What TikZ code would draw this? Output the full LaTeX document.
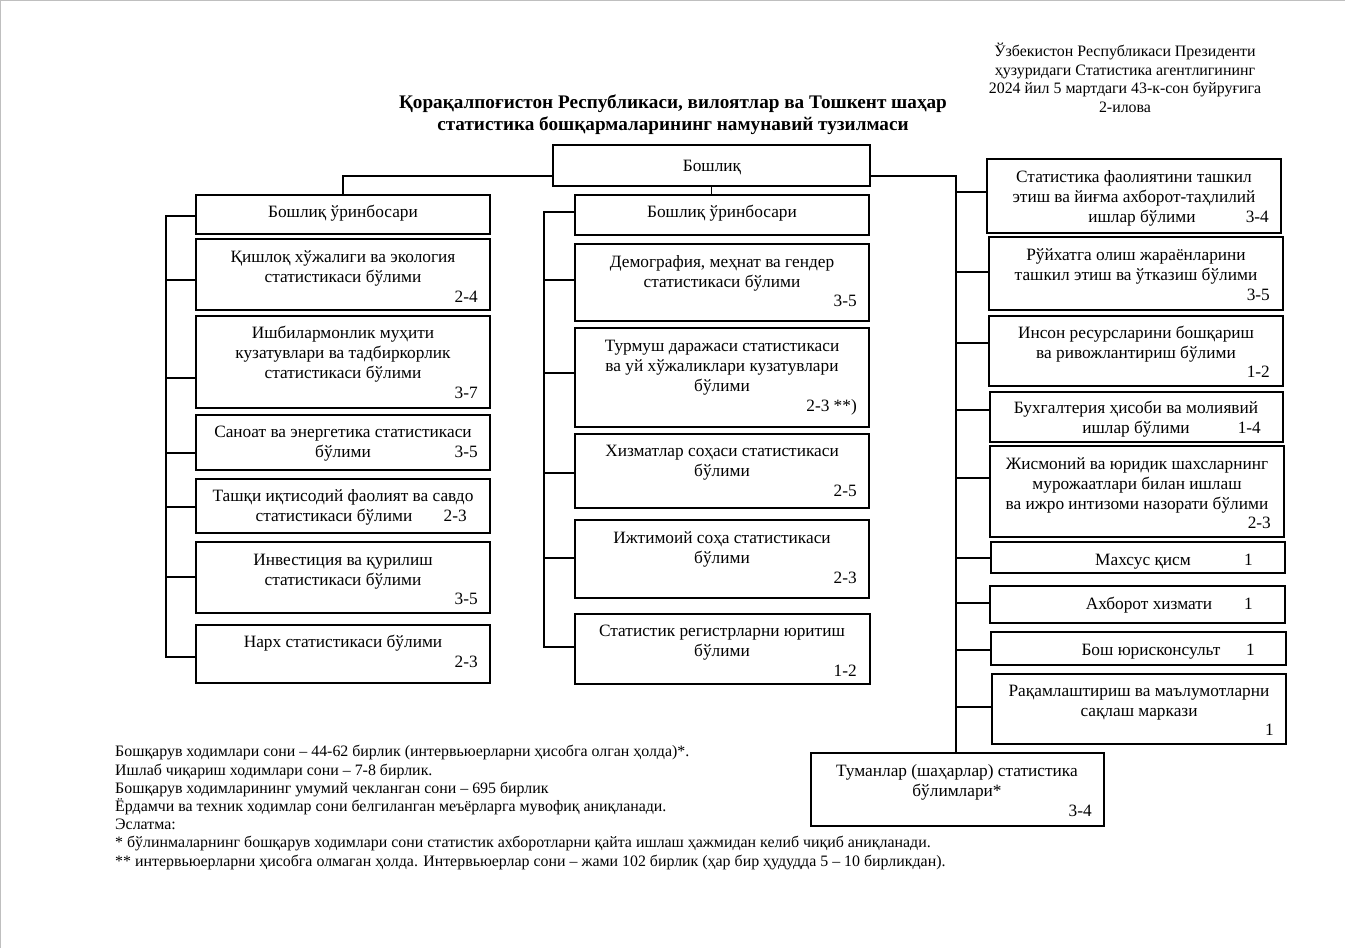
\documentclass[tikz,border=0pt]{standalone}
\usepackage{fontspec}
\setmainfont{Liberation Serif}
\tikzset{
 box/.style={draw=black, line width=1.2pt, inner sep=0pt, outer sep=0pt, anchor=north west},
 conn/.style={draw=black, line width=1.2pt},
 txt/.style={font=\fontsize{17.3}{20}\selectfont, align=center, anchor=base, inner sep=0pt},
 num/.style={font=\fontsize{17.3}{20}\selectfont, anchor=base east, inner sep=0pt},
 hdr/.style={font=\fontsize{15.9}{18.4}\selectfont, align=center, anchor=base, inner sep=0pt},
 ttl/.style={font=\bfseries\fontsize{19.2}{22}\selectfont, align=center, anchor=base, inner sep=0pt},
 foot/.style={font=\fontsize{15.9}{18.2}\selectfont, align=left, anchor=base west, inner sep=0pt},
}
\newcommand\bx[5]{\node[box, minimum width={#4-#2}, minimum height={#5-#3}] (#1) at (#2,#3) {};}
\begin{document}
\begin{tikzpicture}[x=1pt,y=-1pt]
\useasboundingbox (0,0) rectangle (1345,948);
\draw[gray!50, line width=0.8pt] (0.4,948) -- (0.4,0.4) -- (1345,0.4);

% header (anchor = baseline of last line)
\node[hdr] (hdr) at (1125,112) {Ўзбекистон Республикаси Президенти\\ҳузуридаги Статистика агентлигининг\\2024 йил 5 мартдаги 43-к-сон буйруғига\\2-илова};
\node[ttl] (ttl) at (673,130) {Қорақалпоғистон Республикаси, вилоятлар ва Тошкент шаҳар\\статистика бошқармаларининг намунавий тузилмаси};

% head
\bx{boss}{553}{145}{870}{186}
\node[txt] (bosst) at (712,171) {Бошлиқ};

% left column
\bx{lub}{196}{195}{490}{234}
\node[txt] (lubt) at (343,217) {Бошлиқ ўринбосари};
\bx{l1}{196}{239}{490}{310}
\node[txt] (l1t) at (343,282) {Қишлоқ хўжалиги ва экология\\статистикаси бўлими};
\node[num] (l1n) at (478,302) {2-4};
\bx{l2}{196}{316}{490}{408}
\node[txt] (l2t) at (343,378) {Ишбилармонлик муҳити\\кузатувлари ва тадбиркорлик\\статистикаси бўлими};
\node[num] (l2n) at (478,398) {3-7};
\bx{l3}{196}{415}{490}{470}
\node[txt] (l3t) at (343,457) {Саноат ва энергетика статистикаси\\бўлими};
\node[num] (l3n) at (478,457) {3-5};
\bx{l4}{196}{479}{490}{533}
\node[txt] (l4t) at (343,521) {Ташқи иқтисодий фаолият ва савдо\\статистикаси бўлими\hspace*{18pt}};
\node[num] (l4n) at (467,521) {2-3};
\bx{l5}{196}{542}{490}{613}
\node[txt] (l5t) at (343,585) {Инвестиция ва қурилиш\\статистикаси бўлими};
\node[num] (l5n) at (478,604) {3-5};
\bx{l6}{196}{625}{490}{683}
\node[txt] (l6t) at (343,647) {Нарх статистикаси бўлими};
\node[num] (l6n) at (478,667) {2-3};

% middle column
\bx{mub}{575}{195}{869}{235}
\node[txt] (mubt) at (722,217) {Бошлиқ ўринбосари};
\bx{m1}{575}{244}{869}{321}
\node[txt] (m1t) at (722,287) {Демография, меҳнат ва гендер\\статистикаси бўлими};
\node[num] (m1n) at (857,306) {3-5};
\bx{m2}{575}{328}{869}{427}
\node[txt] (m2t) at (722,391) {Турмуш даражаси статистикаси\\ва уй хўжаликлари кузатувлари\\бўлими};
\node[num] (m2n) at (857,411) {2-3 **)};
\bx{m3}{575}{434}{869}{508}
\node[txt] (m3t) at (722,476) {Хизматлар соҳаси статистикаси\\бўлими};
\node[num] (m3n) at (857,496) {2-5};
\bx{m4}{575}{520}{869}{598}
\node[txt] (m4t) at (722,563) {Ижтимоий соҳа статистикаси\\бўлими};
\node[num] (m4n) at (857,583) {2-3};
\bx{m5}{575}{614}{870}{684}
\node[txt] (m5t) at (722,656) {Статистик регистрларни юритиш\\бўлими};
\node[num] (m5n) at (857,676) {1-2};

% right column
\bx{r1}{987}{159}{1281}{233}
\node[txt] (r1t) at (1134,222) {Статистика фаолиятини ташкил\\этиш ва йиғма ахборот-таҳлилий\\\hspace*{16pt}ишлар бўлими};
\node[num] (r1n) at (1269,222) {3-4};
\bx{r2}{989}{237}{1283}{310}
\node[txt] (r2t) at (1136,280) {Рўйхатга олиш жараёнларини\\ташкил этиш ва ўтказиш бўлими};
\node[num] (r2n) at (1270,300) {3-5};
\bx{r3}{989}{316}{1283}{386}
\node[txt] (r3t) at (1136,358) {Инсон ресурсларини бошқариш\\ва ривожлантириш бўлими};
\node[num] (r3n) at (1270,377) {1-2};
\bx{r4}{990}{392}{1283}{442}
\node[txt] (r4t) at (1136,433) {Бухгалтерия ҳисоби ва молиявий\\ишлар бўлими};
\node[num] (r4n) at (1261,433) {1-4};
\bx{r5}{990}{446}{1284}{537}
\node[txt] (r5t) at (1137,509) {Жисмоний ва юридик шахсларнинг\\мурожаатлари билан ишлаш\\ва ижро интизоми назорати бўлими};
\node[num] (r5n) at (1271,528) {2-3};
\bx{r6}{991}{542}{1285}{573}
\node[txt] (r6t) at (1143,565) {Махсус қисм};
\node[num] (r6n) at (1253,565) {1};
\bx{r7}{990}{586}{1285}{623}
\node[txt] (r7t) at (1149,609) {Ахборот хизмати};
\node[num] (r7n) at (1253,609) {1};
\bx{r8}{991}{632}{1286}{665}
\node[txt] (r8t) at (1151,655) {Бош юрисконсульт};
\node[num] (r8n) at (1255,655) {1};
\bx{r9}{992}{674}{1286}{744}
\node[txt] (r9t) at (1139,716) {Рақамлаштириш ва маълумотларни\\сақлаш маркази};
\node[num] (r9n) at (1274,735) {1};
\bx{tum}{811}{753}{1104}{826}
\node[txt] (tumt) at (957,796) {Туманлар (шаҳарлар) статистика\\бўлимлари*};
\node[num] (tumn) at (1092,816) {3-4};

% connectors: head to left deputy
\coordinate (bl) at (343,176);
\draw[conn] (boss.west |- bl) -- (bl) -- (lub.north);
% head to middle deputy
\draw[conn] (boss.south) -- (boss.south |- mub.north);
% head to right bus
\coordinate (rt) at (956,176);
\draw[conn] (boss.east |- rt) -- (rt) -- (rt |- tum.north);

% left bus
\coordinate (lt) at (166,216);
\coordinate (lb) at (166,657);
\draw[conn] (lub.west |- lt) -- (lt) -- (lb) -- (lb -| l6.west);
\foreach \n/\y in {l1/280, l2/378, l3/453, l4/507, l5/577}{
  \coordinate (c\n) at (166,\y);
  \draw[conn] (c\n) -- (c\n -| \n.west);
}
% middle bus
\coordinate (mt) at (544,212);
\coordinate (mb) at (544,647);
\draw[conn] (mub.west |- mt) -- (mt) -- (mb) -- (mb -| m5.west);
\foreach \n/\y in {m1/280, m2/373, m3/473, m4/558}{
  \coordinate (c\n) at (544,\y);
  \draw[conn] (c\n) -- (c\n -| \n.west);
}
% right ticks
\foreach \n/\y in {r1/192, r2/272, r3/343, r4/410, r5/478, r6/558, r7/603, r8/650, r9/707}{
  \coordinate (c\n) at (956,\y);
  \draw[conn] (c\n) -- (c\n -| \n.west);
}

% footer (anchor = baseline of last line)
\node[foot] (foot) at (115,866) {Бошқарув ходимлари сони – 44-62 бирлик (интервьюерларни ҳисобга олган ҳолда)*.\\
Ишлаб чиқариш ходимлари сони – 7-8 бирлик.\\
Бошқарув ходимларининг умумий чекланган сони – 695 бирлик\\
Ёрдамчи ва техник ходимлар сони белгиланган меъёрларга мувофиқ аниқланади.\\
Эслатма:\\
* бўлинмаларнинг бошқарув ходимлари сони статистик ахборотларни қайта ишлаш ҳажмидан келиб чиқиб аниқланади.\\
** интервьюерларни ҳисобга олмаган ҳолда. Интервьюерлар сони – жами 102 бирлик (ҳар бир ҳудудда 5 – 10 бирликдан).};
\end{tikzpicture}
\end{document}
